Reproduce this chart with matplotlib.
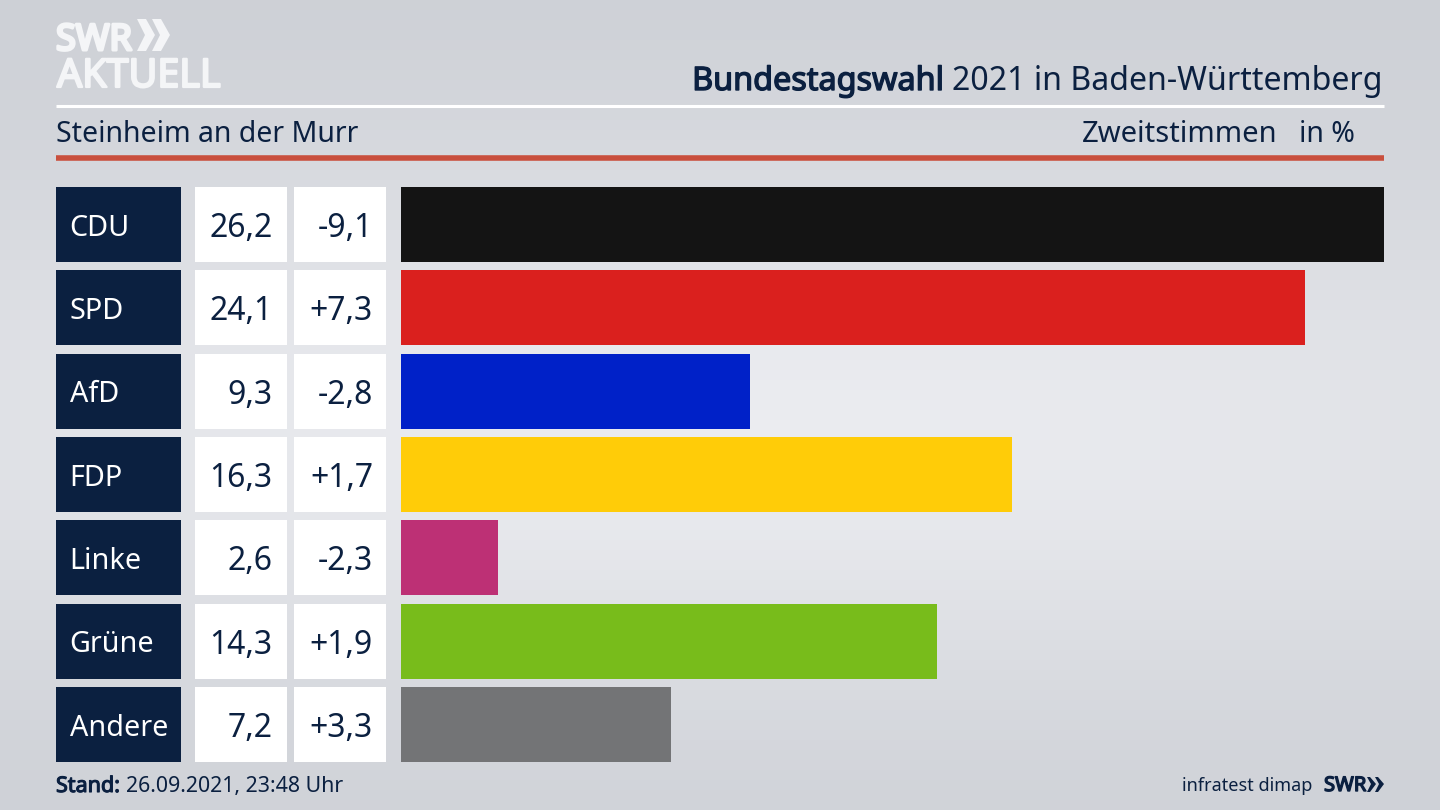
import numpy as np
import matplotlib
matplotlib.use("Agg")
import matplotlib.pyplot as plt
import matplotlib.patheffects as pe

parties = ["CDU", "SPD", "AfD", "FDP", "Linke", "Grüne", "Andere"]
shares = [26.2, 24.1, 9.3, 16.3, 2.6, 14.3, 7.2]
changes = ["-9,1", "+7,3", "-2,8", "+1,7", "-2,3", "+1,9", "+3,3"]
colors = ["#141414", "#da201e", "#0021c8", "#ffcc08", "#bd3075", "#78bc1b", "#737476"]

NAVY = "#0b2040"
LOGO = "#f4f5f7"
W, H = 1440, 810
plt.rcParams["font.family"] = ["Noto Sans", "DejaVu Sans"]

fig = plt.figure(figsize=(14.4, 8.1), dpi=100)


def px_axes(x0, y0, x1, y1):
    # axes from pixel box, y counted from the top of the image
    ax = fig.add_axes([x0 / W, 1 - y1 / H, (x1 - x0) / W, (y1 - y0) / H])
    ax.axis("off")
    return ax


def heavy(txt, width, color):
    # the Noto Sans here has no bold cut, so thicken the outline
    txt.set_path_effects([pe.withStroke(linewidth=width, foreground=color)])


# background, light band through the middle
bg = px_axes(0, 0, W, H)
yy, xx = np.mgrid[0:1:81j, 0:1:144j]
glow = np.exp(-((yy - 0.53) / 0.36) ** 2) * (1 - 0.35 * ((xx - 0.5) / 0.5) ** 2)
bg.imshow(glow, cmap=matplotlib.colors.LinearSegmentedColormap.from_list("bg", ["#cbced4", "#ebecf0"]),
          aspect="auto", extent=[0, W, H, 0], vmin=0, vmax=1)
bg.set_xlim(0, W)
bg.set_ylim(H, 0)

# header
bg.plot([56, 1384], [105.5, 105.5], color="white", lw=2.2, solid_capstyle="butt")
bg.plot([56, 1384], [157.5, 157.5], color="#c94f3d", lw=4, solid_capstyle="butt")
bg.text(56, 142, "Steinheim an der Murr", fontsize=20.5, color=NAVY, ha="left", va="baseline")
bg.text(1277.5, 142, "Zweitstimmen", fontsize=21, color=NAVY, ha="right", va="baseline")
bg.text(1355, 142, "in %", fontsize=20.5, color=NAVY, ha="right", va="baseline")
title = bg.text(944, 90, "Bundestagswahl", fontsize=23.3, color=NAVY, ha="right", va="baseline")
heavy(title, 1.0, NAVY)
bg.text(1383, 90, "2021 in Baden-Württemberg", fontsize=23.1, color=NAVY, ha="right", va="baseline")

# logo
logo1 = bg.text(56, 50, "SWR", fontsize=26, color=LOGO, ha="left", va="baseline")
heavy(logo1, 2.2, LOGO)
for dx in (0, 15):
    bg.fill([137 + dx, 146 + dx, 155 + dx, 146 + dx, 137 + dx, 145 + dx],
            [19, 19, 35, 51, 51, 35], color=LOGO, lw=0)
logo2 = bg.text(57, 87, "AKTUELL", fontsize=28.4, color=LOGO, ha="left", va="baseline")
heavy(logo2, 1.6, LOGO)

# footer
stand = bg.text(56, 792, "Stand:", fontsize=15.5, color=NAVY, ha="left", va="baseline")
heavy(stand, 0.8, NAVY)
bg.text(126, 792, "26.09.2021, 23:48 Uhr", fontsize=15.35, color=NAVY, ha="left", va="baseline")
bg.text(1312, 791, "infratest dimap", fontsize=13, color=NAVY, ha="right", va="baseline")
swr = bg.text(1324, 791, "SWR", fontsize=14.5, color=NAVY, ha="left", va="baseline")
heavy(swr, 1.0, NAVY)
for dx in (0, 8):
    bg.fill([1367 + dx, 1370 + dx, 1376 + dx, 1370 + dx, 1367 + dx, 1371 + dx],
            [777, 777, 784, 792, 792, 784], color=NAVY, lw=0)

# table and bars share the same rows
y = np.arange(len(parties))
top, bottom = 183.0, 766.3

tab = px_axes(56, top, 386, bottom)
tab.set_xlim(56, 386)
tab.set_ylim(len(parties) - 0.5, -0.5)
tab.barh(y, [125] * 7, left=56, height=0.9, color=NAVY)
tab.barh(y, [92] * 7, left=195, height=0.9, color="white")
tab.barh(y, [92] * 7, left=294, height=0.9, color="white")
for i, p in enumerate(parties):
    tab.text(69.5, i, p, fontsize=20.7, color="white", ha="left", va="center_baseline")
    tab.text(272.5, i, f"{shares[i]:.1f}".replace(".", ","), fontsize=23, color=NAVY,
             ha="right", va="center_baseline")
    tab.text(373, i, changes[i], fontsize=23, color=NAVY, ha="right", va="center_baseline")

ax = px_axes(400.5, top, 1384, bottom)
ax.set_xlim(0, 26.2)
ax.set_ylim(len(parties) - 0.5, -0.5)
ax.barh(y, shares, height=0.9, color=colors)

fig.savefig("out.png", dpi=100)
